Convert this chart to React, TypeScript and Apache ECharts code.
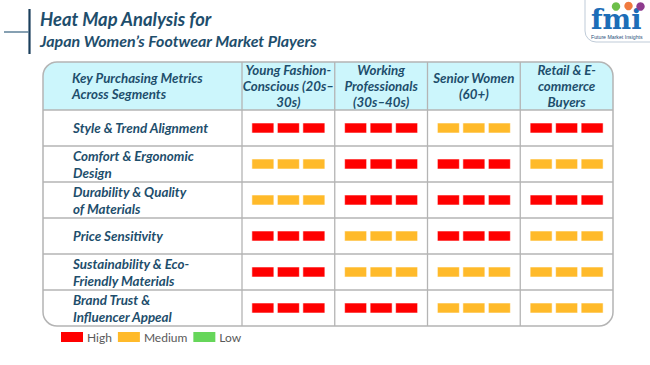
import React, { useEffect, useRef } from "react";
import * as echarts from "echarts";

const segments = [
  "Young Fashion-\nConscious (20s–\n30s)",
  "Working\nProfessionals\n(30s–40s)",
  "Senior Women\n(60+)",
  "Retail & E-\ncommerce\nBuyers",
];
const metrics = [
  "Style & Trend Alignment",
  "Comfort & Ergonomic\nDesign",
  "Durability & Quality\nof Materials",
  "Price Sensitivity",
  "Sustainability & Eco-\nFriendly Materials",
  "Brand Trust &\nInfluencer Appeal",
];
const youngFashion = ["High", "Medium", "Medium", "High", "High", "High"];
const workingProfessionals = ["High", "High", "High", "Medium", "Medium", "High"];
const seniorWomen = ["Medium", "High", "High", "High", "Medium", "Medium"];
const retailEcommerce = ["High", "Medium", "High", "Medium", "Medium", "Medium"];
const levels = ["High", "Medium", "Low"];
const levelColors = ["#FF0000", "#FFBA2A", "#66D65A"];
const headerFirst = "Key Purchasing Metrics\nAcross Segments";
const titleLine1 = "Heat Map Analysis for";
const titleLine2 = "Japan Women’s Footwear Market Players";

const columns = [youngFashion, workingProfessionals, seniorWomen, retailEcommerce];

// layout constants
const TL = 43, TR = 613, TT = 62, HB = 110, TB = 326, GL = 242;
const TEXT = "#1E4E6C";
const FONT = "Lato";

export default function App() {
  const ref = useRef<HTMLDivElement>(null);
  useEffect(() => {
    if (!ref.current) return;
    const chart = echarts.init(ref.current, null, { renderer: "svg" });
    const colW = (TR - GL) / segments.length;
    const rowH = (TB - HB) / metrics.length;
    const lines: any[] = [];
    for (let r = 0; r <= metrics.length - 1; r++) {
      const y = HB + r * rowH;
      lines.push({ type: "line", z: 1, shape: { x1: TL, y1: y, x2: TR, y2: y }, style: { stroke: "#B4B4B4", lineWidth: 1.3 } });
    }
    for (let c = 0; c < segments.length; c++) {
      const x = GL + c * colW;
      lines.push({ type: "line", z: 1, shape: { x1: x, y1: TT, x2: x, y2: TB }, style: { stroke: "#B4B4B4", lineWidth: 1.3 } });
    }

    const series = levels.map((lv, li) => {
      const data: number[][] = [];
      columns.forEach((col, ci) => col.forEach((v, ri) => { if (v === lv) data.push([ci, ri]); }));
      return {
        type: "custom",
        name: lv,
        itemStyle: { color: levelColors[li] },
        data,
        z: 5,
        renderItem: (params: any, api: any) => {
          const c = api.coord([api.value(0), api.value(1)]);
          const w = 22, h = 10, gap = 3.5;
          return {
            type: "group",
            children: [-1, 0, 1].map((k) => ({
              type: "rect",
              shape: { x: c[0] + k * (w + gap) - w / 2, y: c[1] - h / 2, width: w, height: h },
              style: { fill: levelColors[li], stroke: "rgba(255,255,255,0.55)", lineWidth: 1 },
            })),
          };
        },
      };
    });

    chart.setOption({
      animation: false,
      backgroundColor: "#FFFFFF",
      grid: { left: GL, right: 650 - TR, top: HB, bottom: 365 - TB },
      xAxis: {
        type: "category",
        position: "top",
        data: segments,
        axisLine: { show: false },
        axisTick: { show: false },
        splitLine: { show: false },
        axisLabel: {
          interval: 0,
          margin: 24,
          verticalAlign: "middle",
          color: TEXT,
          fontFamily: FONT,
          fontSize: 13.3,
          fontWeight: "bold",
          fontStyle: "italic",
          lineHeight: 16,
          align: "center",
        },
      },
      yAxis: {
        type: "category",
        inverse: true,
        data: metrics,
        axisLine: { show: false },
        axisTick: { show: false },
        splitLine: { show: false },
        axisLabel: {
          interval: 0,
          margin: GL - 73,
          align: "left",
          color: TEXT,
          fontFamily: FONT,
          fontSize: 13.4,
          fontWeight: "bold",
          fontStyle: "italic",
          lineHeight: 17,
        },
      },
      legend: {
        data: levels,
        left: 56,
        top: 326,
        icon: "rect",
        itemWidth: 22,
        itemHeight: 10,
        itemGap: 6,
        textStyle: { color: "#595959", fontFamily: FONT, fontSize: 12, padding: [0, 0, 0, -1] },
      },
      graphic: [
        { type: "rect", z: 0, shape: { x: TL, y: TT, width: TR - TL, height: TB - TT, r: 14 }, style: { fill: "#FFFFFF" } },
        { type: "rect", z: 0, shape: { x: TL, y: TT, width: TR - TL, height: HB - TT, r: [14, 14, 0, 0] }, style: { fill: "#CCF6FC" } },
        ...lines,
        { type: "rect", z: 2, shape: { x: TL, y: TT, width: TR - TL, height: TB - TT, r: 14 }, style: { fill: "none", stroke: "#B4B4B4", lineWidth: 1.5 } },
        {
          type: "text", z: 3, x: 72, y: 86,
          style: { text: headerFirst, fill: TEXT, font: `italic bold 13.3px ${FONT}`, lineHeight: 16, verticalAlign: "middle", align: "left" },
        },
        // title
        { type: "line", z: 3, shape: { x1: 29.5, y1: 9, x2: 29.5, y2: 54 }, style: { stroke: "#1B3F5C", lineWidth: 2.2 } },
        { type: "line", z: 3, shape: { x1: 4, y1: 32, x2: 29, y2: 32 }, style: { stroke: "#5E8199", lineWidth: 1.5 } },
        { type: "text", z: 3, x: 40, y: 19, style: { text: titleLine1, fill: TEXT, font: `italic bold 18.4px ${FONT}`, verticalAlign: "middle" } },
        { type: "text", z: 3, x: 40, y: 40, style: { text: titleLine2, fill: TEXT, font: `italic bold 16px ${FONT}`, verticalAlign: "middle" } },
        // logo
        { type: "rect", z: 3, shape: { x: 585, y: -12, width: 80, height: 54, r: 11 }, style: { fill: "#FFFFFF", stroke: "#BFCBD8", lineWidth: 1 } },
        { type: "text", z: 4, x: 591, y: 19, style: { text: "fmi", fill: "#1C6DB7", font: `bold 27px 'DejaVu Serif'`, verticalAlign: "middle" } },
        { type: "circle", z: 5, shape: { cx: 616, cy: 6.5, r: 4.2 }, style: { fill: "#6CBF4A" } },
        { type: "circle", z: 5, shape: { cx: 628.5, cy: 6, r: 4.2 }, style: { fill: "#F07B3F" } },
        { type: "circle", z: 5, shape: { cx: 640.5, cy: 6.5, r: 4.2 }, style: { fill: "#8E3B8E" } },
        { type: "text", z: 4, x: 591, y: 37, style: { text: "Future Market Insights", fill: "#2A4F7A", font: `5.2px 'Liberation Sans'`, verticalAlign: "middle" } },
      ],
      series,
    });
    return () => chart.dispose();
  }, []);
  return <div ref={ref} style={{ position: "fixed", left: 0, top: 0, width: 650, height: 365 }} />;
}
